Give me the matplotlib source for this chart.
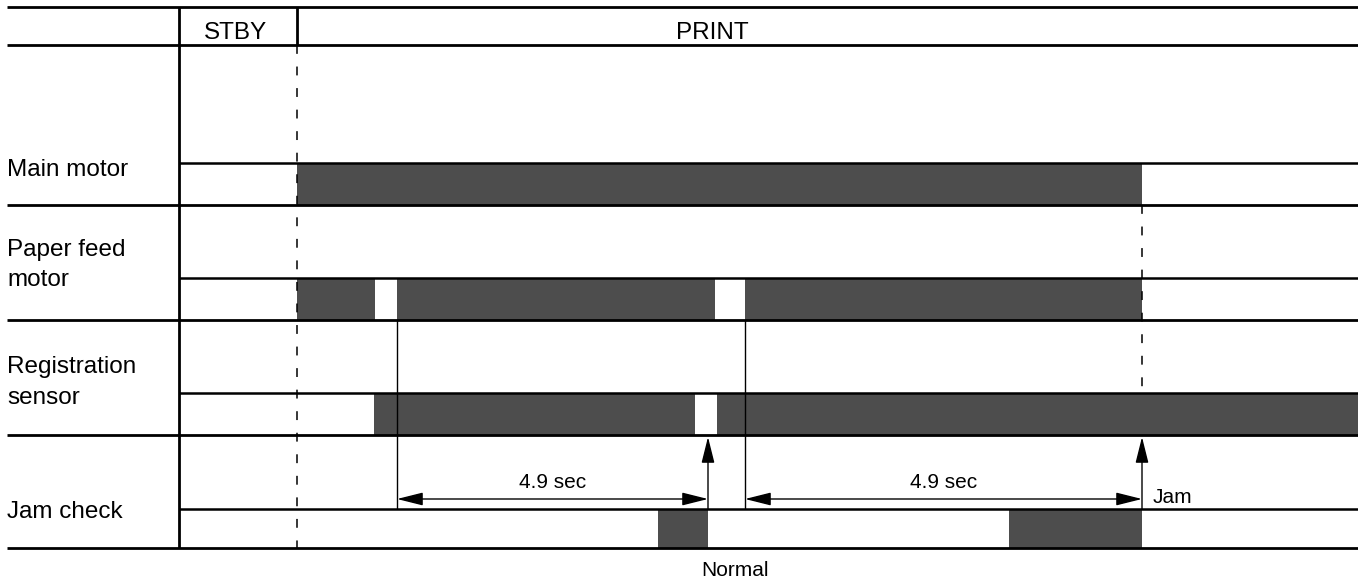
import matplotlib.pyplot as plt

plt.rcParams['font.family'] = ['Liberation Sans', 'DejaVu Sans']

# timeline in drawing units (pixels of the original sheet)
signals = ["Main motor", "Paper feed\nmotor", "Registration\nsensor", "Jam check"]
row_top = [45, 205, 320, 435]
row_bot = [205, 320, 435, 548]
baseline = [163, 278, 393, 509]
on_times = [
    [(297, 1142)],
    [(297, 375), (397, 715), (745, 1142)],
    [(374, 695), (717, 1358)],
    [(658, 708), (1009, 1142)],
]
label_base = [176, 256, 373, 518]   # baseline of first text line
line_step = 30.5

phase_names = ["STBY", "PRINT"]
phase_x = [236, 712]
phase_edges = [179, 297]

t_print = 297      # start of print
t_end = 1142       # main motor off / jam check
check_starts = [397, 745]   # paper reaches registration sensor
check_ends = [708, 1142]    # 4.9 sec later
check_text = ["4.9 sec", "4.9 sec"]

fig = plt.figure(figsize=(13.58, 5.82), dpi=100)
ax = fig.add_axes([0, 0, 1, 1])
ax.set_xlim(0, 1358)
ax.set_ylim(582, 0)
ax.axis('off')

bar_color = '#4d4d4d'
lw = 2.0
big = 17.5
small = 15

########## grid ##########
ax.hlines([7, 45] + row_bot, 7, 1358, color='black', lw=lw)
ax.vlines(phase_edges[0], 7, row_bot[-1], color='black', lw=lw)
ax.vlines(phase_edges[1], 7, 45, color='black', lw=lw)

for name, x in zip(phase_names, phase_x):
    ax.text(x, 39, name, ha='center', va='baseline', fontsize=big)

########## signals ##########
for i in range(len(signals)):
    for k, part in enumerate(signals[i].split("\n")):
        ax.text(7, label_base[i] + k * line_step, part, ha='left', va='baseline', fontsize=big)
    ax.hlines(baseline[i], phase_edges[0], 1358, color='black', lw=1.8)
    ax.broken_barh([(a, b - a) for a, b in on_times[i]],
                   (baseline[i], row_bot[i] - baseline[i]), facecolor=bar_color, edgecolor='none')

########## dashed markers ##########
dash = (0, (5.8, 8.3))
ax.vlines(t_print, 45, row_bot[-1], color='black', lw=1.1, linestyles=[dash])
ax.vlines(t_end, row_top[1], baseline[2], color='black', lw=1.1, linestyles=[dash])

########## jam check timing ##########
arrow = dict(mutation_scale=20, color='black', lw=1.0, shrinkA=0, shrinkB=0)
for s, e, txt in zip(check_starts, check_ends, check_text):
    ax.vlines(s, row_bot[1], baseline[3], color='black', lw=1.0)
    ax.annotate('', xy=(e, 499), xytext=(s, 499),
                arrowprops=dict(arrowstyle='<|-|>,head_length=0.8,head_width=0.2', **arrow))
    ax.text((s + e) / 2, 488, txt, ha='center', va='baseline', fontsize=small)
    ax.annotate('', xy=(e, 437), xytext=(e, baseline[3]),
                arrowprops=dict(arrowstyle='-|>,head_length=0.8,head_width=0.2', **arrow))

ax.text(1153, 503, "Jam", ha='left', va='baseline', fontsize=small)
ax.text(701, 576, "Normal", ha='left', va='baseline', fontsize=small)

fig.savefig('out.png', dpi=100)
